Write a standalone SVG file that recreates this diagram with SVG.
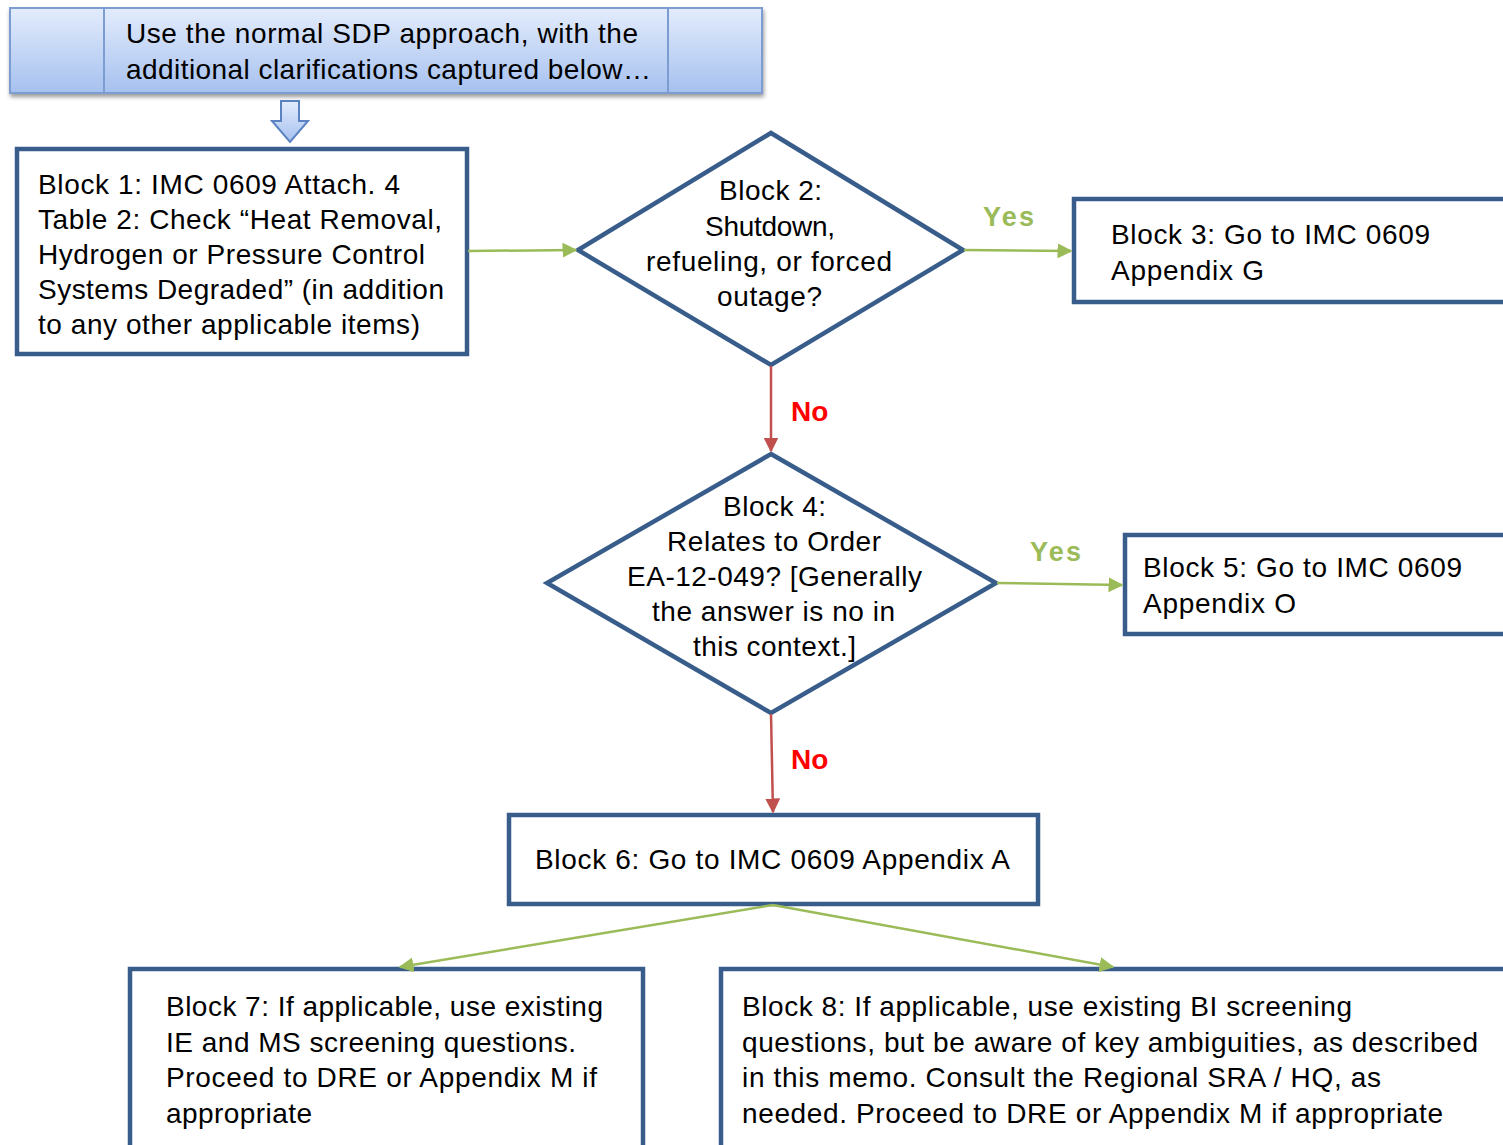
<svg xmlns="http://www.w3.org/2000/svg" width="1503" height="1145" viewBox="0 0 1503 1145">
<defs>
<linearGradient id="topGrad" x1="0" y1="0" x2="0" y2="1">
<stop offset="0" stop-color="#e3ecfc"/>
<stop offset="1" stop-color="#a6c1ef"/>
</linearGradient>
<linearGradient id="arrGrad" x1="0" y1="0" x2="0" y2="1">
<stop offset="0" stop-color="#e3ecfc"/>
<stop offset="1" stop-color="#a6c1ef"/>
</linearGradient>
<marker id="ag" viewBox="0 0 10 10" refX="9" refY="5" markerWidth="6" markerHeight="6" orient="auto" markerUnits="strokeWidth">
<path d="M0,0 L10,5 L0,10 z" fill="#9bbb59"/>
</marker>
<marker id="ar" viewBox="0 0 10 10" refX="9" refY="5" markerWidth="6" markerHeight="6" orient="auto" markerUnits="strokeWidth">
<path d="M0,0 L10,5 L0,10 z" fill="#c0504d"/>
</marker>
<filter id="sh" x="-5%" y="-20%" width="110%" height="150%">
<feGaussianBlur in="SourceAlpha" stdDeviation="2"/>
<feOffset dx="1" dy="3"/>
<feComponentTransfer><feFuncA type="linear" slope="0.4"/></feComponentTransfer>
<feMerge><feMergeNode/><feMergeNode in="SourceGraphic"/></feMerge>
</filter>
</defs>
<style>
.box{fill:#ffffff;stroke:#385d8a;stroke-width:4.5}
.t{font-family:"Liberation Sans",Arial,sans-serif;font-size:28px;fill:#000}
.g{fill:none;stroke:#9bbb59;stroke-width:2.5;marker-end:url(#ag)}
.r{fill:none;stroke:#c0504d;stroke-width:2.5;marker-end:url(#ar)}
.yes{font-family:"Liberation Sans",Arial,sans-serif;font-size:27px;font-weight:bold;fill:#9bbb59}
.no{font-family:"Liberation Sans",Arial,sans-serif;font-size:28px;font-weight:bold;fill:#ff0000}
</style>

<g id="top">
<rect x="10" y="8" width="752" height="85" fill="url(#topGrad)" stroke="#7c9cd2" stroke-width="2" filter="url(#sh)"/>
<line x1="104" y1="8" x2="104" y2="93" stroke="#7c9cd2" stroke-width="2"/>
<line x1="668" y1="8" x2="668" y2="93" stroke="#7c9cd2" stroke-width="2"/>
<text class="t" x="126" y="43" textLength="512" lengthAdjust="spacing">Use the normal SDP approach, with the</text>
<text class="t" x="126" y="79" textLength="525" lengthAdjust="spacing">additional clarifications captured below…</text>
</g>

<g id="downarrow">
<path d="M281,101 L299,101 L299,121 L308,121 L290,142 L272,121 L281,121 Z" fill="url(#arrGrad)" stroke="#5b83c2" stroke-width="2"/>
</g>

<g id="block1">
<rect class="box" x="17" y="149" width="450" height="205"/>
<text class="t" x="38" y="194" textLength="362" lengthAdjust="spacing">Block 1: IMC 0609 Attach. 4</text>
<text class="t" x="38" y="229" textLength="404" lengthAdjust="spacing">Table 2: Check “Heat Removal,</text>
<text class="t" x="38" y="264" textLength="387" lengthAdjust="spacing">Hydrogen or Pressure Control</text>
<text class="t" x="38" y="299" textLength="406" lengthAdjust="spacing">Systems Degraded” (in addition</text>
<text class="t" x="38" y="334" textLength="382" lengthAdjust="spacing">to any other applicable items)</text>
</g>

<g id="block2">
<polygon class="box" points="771,133 963,250 771,365 578,250"/>
<text class="t" x="719" y="200" textLength="103" lengthAdjust="spacing">Block 2:</text>
<text class="t" x="705" y="236" textLength="130" lengthAdjust="spacing">Shutdown,</text>
<text class="t" x="646" y="271" textLength="246" lengthAdjust="spacing">refueling, or forced</text>
<text class="t" x="717" y="306" textLength="105" lengthAdjust="spacing">outage?</text>
</g>

<g id="block3">
<rect class="box" x="1074" y="199" width="440" height="103"/>
<text class="t" x="1111" y="244" textLength="319" lengthAdjust="spacing">Block 3: Go to IMC 0609</text>
<text class="t" x="1111" y="280" textLength="153" lengthAdjust="spacing">Appendix G</text>
</g>

<g id="block4">
<polygon class="box" points="771,454 996,583 771,713 547,583"/>
<text class="t" x="723" y="516" textLength="103" lengthAdjust="spacing">Block 4:</text>
<text class="t" x="667" y="551" textLength="214" lengthAdjust="spacing">Relates to Order</text>
<text class="t" x="627" y="586" textLength="295" lengthAdjust="spacing">EA-12-049? [Generally</text>
<text class="t" x="652" y="621" textLength="243" lengthAdjust="spacing">the answer is no in</text>
<text class="t" x="693" y="656" textLength="163" lengthAdjust="spacing">this context.]</text>
</g>

<g id="block5">
<rect class="box" x="1125" y="535" width="390" height="99"/>
<text class="t" x="1143" y="577" textLength="319" lengthAdjust="spacing">Block 5: Go to IMC 0609</text>
<text class="t" x="1143" y="613" textLength="153" lengthAdjust="spacing">Appendix O</text>
</g>

<g id="block6">
<rect class="box" x="509" y="815" width="529" height="89"/>
<text class="t" x="535" y="869" textLength="475" lengthAdjust="spacing">Block 6: Go to IMC 0609 Appendix A</text>
</g>

<g id="block7">
<rect class="box" x="130" y="969" width="513" height="190"/>
<text class="t" x="166" y="1016" textLength="437" lengthAdjust="spacing">Block 7: If applicable, use existing</text>
<text class="t" x="166" y="1052" textLength="410" lengthAdjust="spacing">IE and MS screening questions.</text>
<text class="t" x="166" y="1087" textLength="431" lengthAdjust="spacing">Proceed to DRE or Appendix M if</text>
<text class="t" x="166" y="1123" textLength="146" lengthAdjust="spacing">appropriate</text>
</g>

<g id="block8">
<rect class="box" x="721" y="969" width="800" height="190"/>
<text class="t" x="742" y="1016" textLength="610" lengthAdjust="spacing">Block 8: If applicable, use existing BI screening</text>
<text class="t" x="742" y="1052" textLength="736" lengthAdjust="spacing">questions, but be aware of key ambiguities, as described</text>
<text class="t" x="742" y="1087" textLength="639" lengthAdjust="spacing">in this memo. Consult the Regional SRA / HQ, as</text>
<text class="t" x="742" y="1123" textLength="701" lengthAdjust="spacing">needed. Proceed to DRE or Appendix M if appropriate</text>
</g>

<g id="connectors">
<line class="g" x1="468" y1="251" x2="576" y2="250"/>
<line class="g" x1="964" y1="250" x2="1071" y2="251"/>
<line class="r" x1="771" y1="366" x2="771" y2="451"/>
<line class="g" x1="997" y1="583" x2="1122" y2="585"/>
<line class="r" x1="771" y1="714" x2="773" y2="812"/>
<line class="g" x1="773" y1="905" x2="400" y2="967"/>
<line class="g" x1="773" y1="905" x2="1113" y2="967"/>
<text class="yes" x="983" y="226" textLength="51" lengthAdjust="spacing">Yes</text>
<text class="no" x="791" y="421">No</text>
<text class="yes" x="1030" y="561" textLength="51" lengthAdjust="spacing">Yes</text>
<text class="no" x="791" y="769">No</text>
</g>
</svg>
